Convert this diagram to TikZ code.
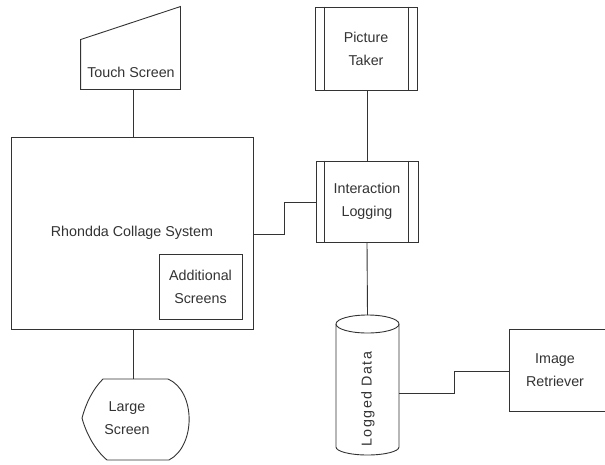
\documentclass[tikz,border=0pt]{standalone}
\usepackage{fontspec}
\setmainfont{Liberation Sans}
\begin{document}
\begin{tikzpicture}[x=1pt,y=-1pt,
  line width=0.9pt, draw=black!80,
  txt/.style={font=\fontsize{14.3pt}{23pt}\selectfont, text=black!80, align=center, inner sep=0pt},
  box/.style={txt, draw=black!80, rectangle},
  conn/.style={draw=black!80, line width=0.9pt}]
\useasboundingbox (0,0) rectangle (605,464);
\fill[white] (0,0) rectangle (605,464);
\clip (0,0) rectangle (605,464);

% Touch Screen (manual input)
\node[minimum width=99, minimum height=82, inner sep=0pt] (touch) at (130.5,48) {};
\draw ([xshift=0pt]touch.south west) -- ([yshift=-33pt]touch.north west) -- (touch.north east) -- (touch.south east) -- cycle;
\node[txt] (touchtxt) at (131,72) {Touch Screen};

% Rhondda Collage System
\node[box, minimum width=242, minimum height=192] (rcs) at (132,233) {Rhondda Collage System};
\node[box, minimum width=83, minimum height=65] (add) at (200.5,286.5) {Additional\\Screens};

% Picture Taker
\node[box, minimum width=102, minimum height=83] (pt) at (366,48.5) {Picture\\Taker};
\draw ([xshift=10pt]pt.north west) -- ([xshift=10pt]pt.south west);
\draw ([xshift=-9pt]pt.north east) -- ([xshift=-9pt]pt.south east);

% Interaction Logging
\node[box, minimum width=102, minimum height=81] (il) at (367,201.5) {Interaction\\Logging};
\draw ([xshift=9pt]il.north west) -- ([xshift=9pt]il.south west);
\draw ([xshift=-10pt]il.north east) -- ([xshift=-10pt]il.south east);

% Logged Data (cylinder)
\draw (336,324) -- (336,447) arc[start angle=180, end angle=0, x radius=31.5, y radius=8] -- (399,324);
\draw (367.5,324) ellipse[x radius=31.5, y radius=9];
\node[txt, rotate=90] (ld) at (368,399) {\addfontfeature{LetterSpace=10}Logged Data};
\coordinate (ldtop) at (367.5,315);
\coordinate (ldright) at (399,393);

% Image Retriever
\node[box, minimum width=104, minimum height=82, label={[txt, xshift=-6pt]center:Image\\Retriever}] (ir) at (561,370) {};

% Large Screen (display)
\draw (103,379) -- (168,379) .. controls (196,391) and (196,446) .. (169,460) -- (107,460)
  .. controls (95,450) and (86,433) .. (82,418) .. controls (86,403) and (93,389) .. (103,379) -- cycle;
\node[txt] (large) at (127,418) {Large\\Screen};
\coordinate (largetop) at (133,379);

% Connectors
\coordinate (tsb) at (133,89);
\draw[conn] (tsb) -- (tsb |- rcs.north);
\draw[conn] (rcs.east |- 0,234) -- (284,234) -- (284,202) -- (il.west |- 0,202);
\draw[conn] (pt.south -| 367,0) -- (il.north -| 367,0);
\draw[conn] (il.south -| 367,0) -- (ldtop);
\draw[conn] (ldright) -- (454,393) -- (454,371) -- (ir.west |- 0,371);
\draw[conn] (rcs.south -| largetop) -- (largetop);
\end{tikzpicture}
\end{document}
